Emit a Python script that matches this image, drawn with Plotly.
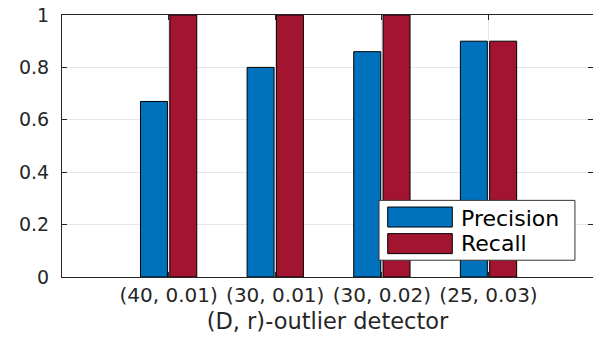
import plotly.graph_objects as go

categories = ["(40, 0.01)", "(30, 0.01)", "(30, 0.02)", "(25, 0.03)"]
precision = [0.67, 0.80, 0.86, 0.90]
recall = [1.0, 1.0, 1.0, 0.90]
series_names = ["Precision", "Recall"]
series_colors = ["#0072BD", "#A2142F"]
y_ticks = [0, 0.2, 0.4, 0.6, 0.8, 1]
x_title = "(D, r)-outlier detector"

xpos = list(range(1, len(categories) + 1))
TXT = "#262626"
FONT = "DejaVu Sans"

fig = go.Figure()
for name, vals, col in zip(series_names, [precision, recall], series_colors):
    fig.add_trace(go.Bar(x=xpos, y=vals, name=name, marker=dict(color=col, line=dict(color="#000000", width=1)),
                         showlegend=False))
fig.add_trace(go.Scatter(x=[None], y=[None], yaxis="y2", showlegend=False, hoverinfo="skip"))

fig.update_layout(
    width=593, height=338,
    margin=dict(l=62, r=0, t=15, b=61),
    paper_bgcolor="white", plot_bgcolor="white",
    barmode="group", bargap=0.45, bargroupgap=0.08,
    font=dict(family=FONT, color=TXT),
    xaxis=dict(range=[0, 4.98], tickvals=xpos, ticktext=categories,
               showgrid=True, gridcolor="#e6e6e6", gridwidth=1,
               showline=True, linecolor=TXT, linewidth=1, mirror="ticks",
               ticks="inside", ticklen=5, tickcolor=TXT,
               tickfont=dict(size=20, color=TXT), zeroline=False,
               title=dict(text=x_title, font=dict(size=22.5, color=TXT), standoff=7)),
    yaxis=dict(range=[0, 1], tickvals=y_ticks, ticktext=["0", "0.2", "0.4", "0.6", "0.8", "1"],
               showgrid=True, gridcolor="#e6e6e6", gridwidth=1,
               showline=True, linecolor=TXT, linewidth=1, mirror=False,
               ticks="inside", ticklen=5, tickcolor=TXT, ticklabelstandoff=8,
               tickfont=dict(size=19, color=TXT), zeroline=False),
    yaxis2=dict(range=[0, 1], tickvals=y_ticks, overlaying="y", side="right",
                showgrid=False, showline=False, zeroline=False, showticklabels=False,
                ticks="inside", ticklen=5, tickcolor=TXT),
)

# custom legend (large swatches, as in the reference)
shapes = [dict(type="rect", xref="paper", yref="paper", x0=0.597, x1=0.966, y0=0.064, y1=0.2925,
               fillcolor="white", line=dict(color="#333333", width=1), layer="above")]
sw_y = [(0.1907, 0.2670), (0.0892, 0.1655)]
txt_y = [0.2239, 0.1285]
annotations = []
for (y0, y1), ty, name, col in zip(sw_y, txt_y, series_names, series_colors):
    shapes.append(dict(type="rect", xref="paper", yref="paper", x0=0.6134, x1=0.7350, y0=y0, y1=y1,
                       fillcolor=col, line=dict(color="#000000", width=1), layer="above"))
    annotations.append(dict(xref="paper", yref="paper", x=0.7475, y=ty, text=name, showarrow=False,
                            xanchor="left", yanchor="middle", font=dict(size=22, color="#000000", family=FONT)))
fig.update_layout(shapes=shapes, annotations=annotations)

fig.write_html("out.html")
